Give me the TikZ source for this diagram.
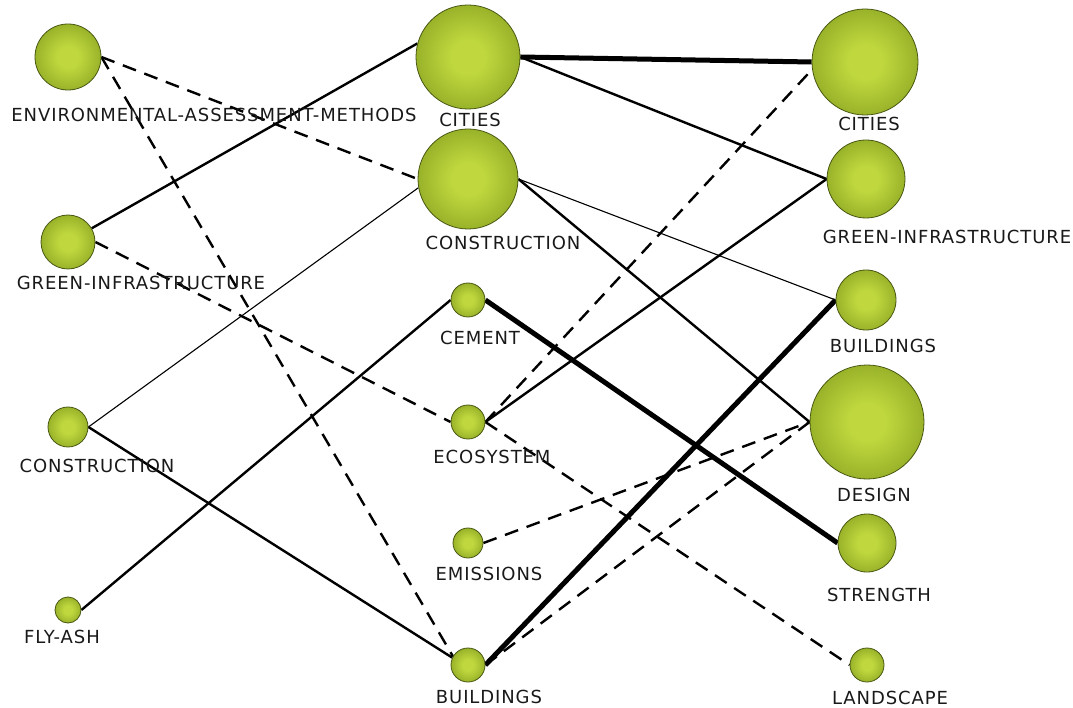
\documentclass[tikz,border=0pt]{standalone}
\usepackage{fontspec}
\setmainfont{DejaVu Sans}[LetterSpace=5]
\pgfdeclarelayer{bg}
\pgfsetlayers{bg,main}
\definecolor{gc}{RGB}{192,216,62}
\definecolor{gm}{RGB}{146,172,38}
\definecolor{ge}{RGB}{88,106,18}
\definecolor{rim}{RGB}{72,88,18}
\definecolor{txt}{RGB}{25,25,25}
\pgfdeclareradialshading{greenball}{\pgfpoint{0bp}{0bp}}{color(0bp)=(gc); color(8bp)=(gc); color(28bp)=(gm); color(35.4bp)=(ge); color(50bp)=(ge)}
\tikzset{
  ball/.style={circle, inner sep=0pt, minimum size=#1, shading=greenball, draw=rim, line width=0.8pt},
  lab/.style={font=\fontsize{18}{18}\selectfont, text=txt, inner sep=0pt},
  heavy/.style={line width=5pt},
  normal/.style={line width=2.4pt},
  thinl/.style={line width=1.1pt},
  dashl/.style={line width=2.4pt, dash pattern=on 14pt off 9pt},
}
\begin{document}
\begin{tikzpicture}[x=1pt,y=-1pt]
\useasboundingbox (0,0) rectangle (1073,708);
% left column
\node[ball=66pt] (L1) at (68,57) {};
\node[ball=54pt] (L2) at (68,242) {};
\node[ball=40pt] (L3) at (68,427) {};
\node[ball=26pt] (L4) at (68,610) {};
% middle column
\node[ball=104pt] (M1) at (468,57) {};
\node[ball=100pt] (M2) at (468,179) {};
\node[ball=34pt] (M3) at (468,300) {};
\node[ball=34pt] (M4) at (468,422) {};
\node[ball=30pt] (M5) at (468,543) {};
\node[ball=34pt] (M6) at (468,665) {};
% right column
\node[ball=106pt] (R1) at (865,62) {};
\node[ball=78pt] (R2) at (866,179) {};
\node[ball=60pt] (R3) at (866,300) {};
\node[ball=114pt] (R4) at (867,422) {};
\node[ball=58pt] (R5) at (867,543) {};
\node[ball=34pt] (R6) at (867,665) {};
% labels
\node[lab] (L1t) at (214,115) {ENVIRONMENTAL-ASSESSMENT-METHODS};
\node[lab] (L2t) at (141,283) {GREEN-INFRASTRUCTURE};
\node[lab] (L3t) at (97,466) {CONSTRUCTION};
\node[lab] (L4t) at (62,637) {FLY-ASH};
\node[lab] (M1t) at (470,120) {CITIES};
\node[lab] (M2t) at (503,243) {CONSTRUCTION};
\node[lab] (M3t) at (480,338) {CEMENT};
\node[lab] (M4t) at (492,457) {ECOSYSTEM};
\node[lab] (M5t) at (489,574) {EMISSIONS};
\node[lab] (M6t) at (489,697) {BUILDINGS};
\node[lab] (R1t) at (869,124) {CITIES};
\node[lab] (R2t) at (947,237) {GREEN-INFRASTRUCTURE};
\node[lab] (R3t) at (883,346) {BUILDINGS};
\node[lab] (R4t) at (874,495) {DESIGN};
\node[lab] (R5t) at (879,595) {STRENGTH};
\node[lab] (R6t) at (890,698) {LANDSCAPE};
% edges
\begin{pgfonlayer}{bg}
\draw[dashl] (L1.east) -- (M2.west);
\draw[dashl] (L1.east) -- (M6.150);
\draw[normal] (L2.30) -- (M1.165);
\draw[dashl] (L2.east) -- (M4.west);
\draw[thinl] (L3.east) -- (M2.190);
\draw[normal] (L3.east) -- (M6.155);
\draw[normal] (L4.east) -- (M3.west);
\draw[heavy] (M1.east) -- (R1.west);
\draw[normal] (M1.east) -- (R2.west);
\draw[thinl] (M2.east) -- (R3.west);
\draw[normal] (M2.east) -- (R4.west);
\draw[heavy] (M3.east) -- (R5.west);
\draw[dashl] (M4.east) -- (R1.188);
\draw[normal] (M4.east) -- (R2.west);
\draw[dashl] (M4.east) -- (R6.west);
\draw[dashl] (M5.east) -- (R4.west);
\draw[heavy] (M6.east) -- (R3.west);
\draw[dashl] (M6.east) -- (R4.west);
\end{pgfonlayer}
\end{tikzpicture}
\end{document}
